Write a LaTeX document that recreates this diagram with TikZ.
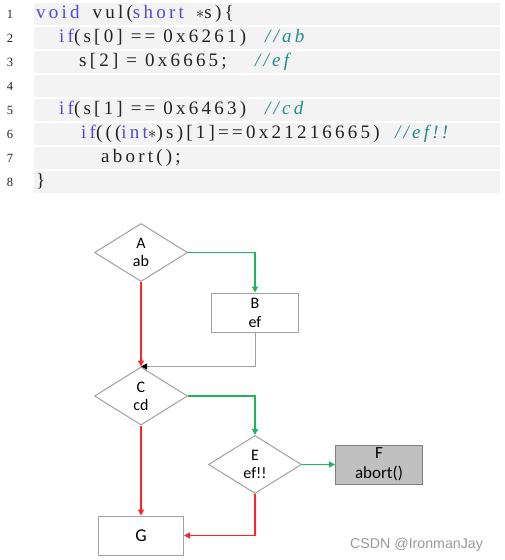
\documentclass[tikz,border=0pt]{standalone}
\usepackage{fontspec}
\setmainfont{Carlito}
\newfontfamily\codefont[LetterSpace=17]{Liberation Serif}
\newfontfamily\numfont{Liberation Serif}
\newfontfamily\markfont{Liberation Sans}
\usetikzlibrary{shapes.geometric, arrows.meta, positioning, calc}
\definecolor{kwblue}{RGB}{84,74,210}
\definecolor{cmteal}{RGB}{38,138,140}
\definecolor{codeink}{RGB}{35,35,35}
\definecolor{bandgray}{RGB}{243,243,243}
\definecolor{edgegray}{RGB}{160,160,160}
\definecolor{truegreen}{RGB}{30,180,90}
\definecolor{falsered}{RGB}{255,35,35}
\definecolor{fillgray}{RGB}{192,192,192}
\newcommand{\kw}[1]{\textcolor{kwblue}{#1}}

\begin{document}
\begin{tikzpicture}[
        x=1pt, y=-1pt,
        codeline/.style={anchor=base west, inner sep=0pt, font=\codefont\fontsize{19}{22}\selectfont, text=codeink},
        remark/.style={anchor=base west, inner sep=0pt, font=\codefont\itshape\fontsize{19}{22}\selectfont, text=cmteal},
        lineno/.style={anchor=base, inner sep=0pt, font=\numfont\fontsize{12.5}{14}\selectfont, text=codeink},
        decision/.style={diamond, aspect=1.6, draw=edgegray, line width=1pt, minimum width=93pt, minimum height=58pt, inner sep=0pt, align=center, font=\fontsize{16}{18}\selectfont},
        block/.style={rectangle, draw=edgegray, line width=1pt, minimum width=87pt, minimum height=39pt, inner sep=0pt, align=center, font=\fontsize{16}{19}\selectfont},
        truearc/.style={draw=truegreen, line width=1.3pt, -{Triangle[length=6pt, width=6pt]}},
        falsearc/.style={draw=falsered, line width=1.3pt, -{Triangle[length=6pt, width=6pt]}},
        mergearc/.style={draw=edgegray, line width=1pt, -{Triangle[length=6pt, width=6pt, color=black]}}
    ]
        \useasboundingbox (0,0) rectangle (505,560);

        % listing
        \foreach \i in {1,...,8} {
            \fill[bandgray] (34,{3+24*(\i-1)}) rectangle (500,{25+24*(\i-1)});
            \node[lineno] (n\i) at (10,{18.5+24*(\i-1)}) {\i};
        }
        \node[codeline] (l1) at (36,18.5) {\kw{void}\hspace{5pt} vul(\kw{short}\hspace{4pt} $\ast$s)\{};
        \node[codeline] (l2) at (59,42.5) {\kw{if}(s[0] == 0x6261)};
        \node[remark] (r2) at (265,42.5) {//ab};
        \node[codeline] (l3) at (79,66.5) {s[2] = 0x6665;};
        \node[remark] (r3) at (255,66.5) {//ef};
        \node[codeline] (l5) at (59,114.5) {\kw{if}(s[1] == 0x6463)};
        \node[remark] (r5) at (265,114.5) {//cd};
        \node[codeline] (l6) at (81,138.5) {\kw{if}(((\kw{int}$\ast$)s)[1]==0x21216665)};
        \node[remark] (r6) at (395,138.5) {//ef!!};
        \node[codeline] (l7) at (101,162.5) {abort();};
        \node[codeline] (l8) at (36,186.5) {\}};

        % flow graph
        \node[decision] (A) at (141,252.5) {A\\ab};
        \node[block] (B) at (255,312.5) {B\\ef};
        \node[decision] (C) at (141,396) {C\\cd};
        \node[decision] (E) at (255,464.5) {E\\ef!!};
        \node[block, fill=fillgray, draw=gray, font=\fontsize{17}{20}\selectfont, right=33pt of E] (F) {F\\abort()};
        \node[block, minimum width=85pt, font=\fontsize{18}{20}\selectfont] (G) at (141,535.5) {G};

        \draw[truearc] (A.east) -| (B.north);
        \draw[falsearc] (A.south) -- (C.north);
        \draw[mergearc] (B.south) |- (C.north);
        \draw[truearc] (C.east) -| (E.north);
        \draw[falsearc] (C.south) -- (G.north);
        \draw[truearc] (E.east) -- (F.west);
        \draw[falsearc] (E.south) |- (G.east);

        \node[anchor=base west, inner sep=0pt, font=\markfont\fontsize{14.2}{16}\selectfont, text=black!40] (mark) at (350,548) {CSDN @IronmanJay};
    \end{tikzpicture}
\end{document}
